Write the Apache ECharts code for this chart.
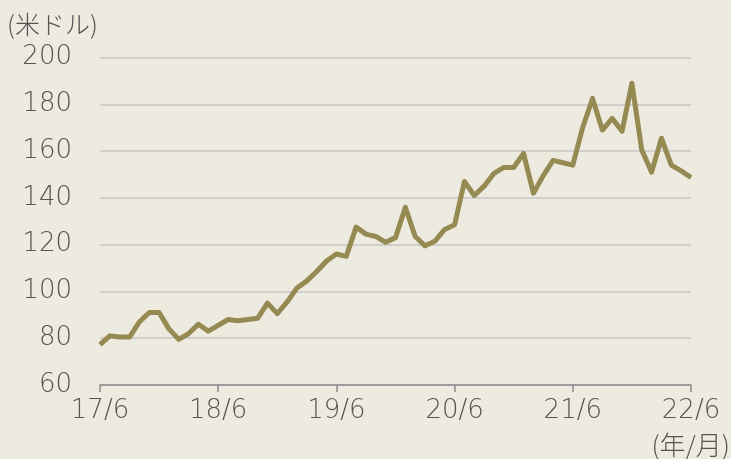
<!DOCTYPE html>
<html><head><meta charset="utf-8">
<script src="https://cdn.jsdelivr.net/npm/echarts@6/dist/echarts.min.js"></script>
<style>html,body{margin:0;padding:0;background:#edeae0;}#c{width:731px;height:459px;}</style>
</head><body><div id="c"></div>
<script>
const categories = [];
for (let y = 17; y <= 22; y++) {
  for (let m = 1; m <= 12; m++) {
    if ((y === 17 && m < 6) || (y === 22 && m > 6)) continue;
    categories.push(y + '/' + m);
  }
}
const values = [
  77.3, 81, 80.5, 80.5, 87, 91, 91, 84, 79.5, 82, 86, 83,
  85.5, 88, 87.5, 88, 88.5, 95, 90.5, 95.5, 101.5, 104.5, 108.5, 113,
  116, 115, 127.5, 124.5, 123.5, 121, 123, 136, 123.5, 119.5, 121.5, 126.5,
  128.5, 147, 141, 145, 150.5, 153, 153, 159, 142, 149.5, 156, 155,
  154, 170, 182.5, 169, 174, 168.5, 189, 160.5, 151, 165.5, 154, 151.5,
  148.7
];
const yTicks = [60, 80, 100, 120, 140, 160, 180, 200];
const unitY = '(米ドル)';
const unitX = '(年/月)';

const chart = echarts.init(document.getElementById('c'));
const font = '"Noto Sans CJK JP", "Noto Sans", sans-serif';
const numFont = '"DejaVu Sans", "Noto Sans", sans-serif';
chart.setOption({
  backgroundColor: '#edeae0',
  animation: false,
  grid: { left: 100, right: 40, top: 57.5, bottom: 74 },
  graphic: [
    { type: 'text', left: 7, top: 12, style: { text: unitY, font: '300 25px ' + font, fill: '#555555' } },
    { type: 'text', right: 1, top: 432, style: { text: unitX, font: '300 26px ' + font, fill: '#555555' } }
  ],
  xAxis: {
    type: 'category',
    data: categories,
    boundaryGap: false,
    axisLine: { lineStyle: { color: '#8c8c8c', width: 1.5 } },
    axisTick: { interval: 11, length: 7, lineStyle: { color: '#8c8c8c', width: 1.5 } },
    axisLabel: { interval: 11, color: '#555555', fontSize: 26, fontWeight: 200, fontFamily: numFont, margin: 13 },
    splitLine: { show: false }
  },
  yAxis: {
    type: 'value',
    min: yTicks[0], max: yTicks[yTicks.length - 1], interval: 20,
    axisLine: { show: false },
    axisTick: { show: false },
    axisLabel: { color: '#555555', fontSize: 26, fontWeight: 200, fontFamily: numFont, margin: 28, padding: [4, 0, 0, 0] },
    splitLine: { lineStyle: { color: '#c6c6c6', width: 1.5 } }
  },
  series: [{
    type: 'line',
    data: values,
    symbol: 'none',
    lineStyle: { color: '#958b52', width: 5, join: 'round' }
  }]
});
</script></body></html>
